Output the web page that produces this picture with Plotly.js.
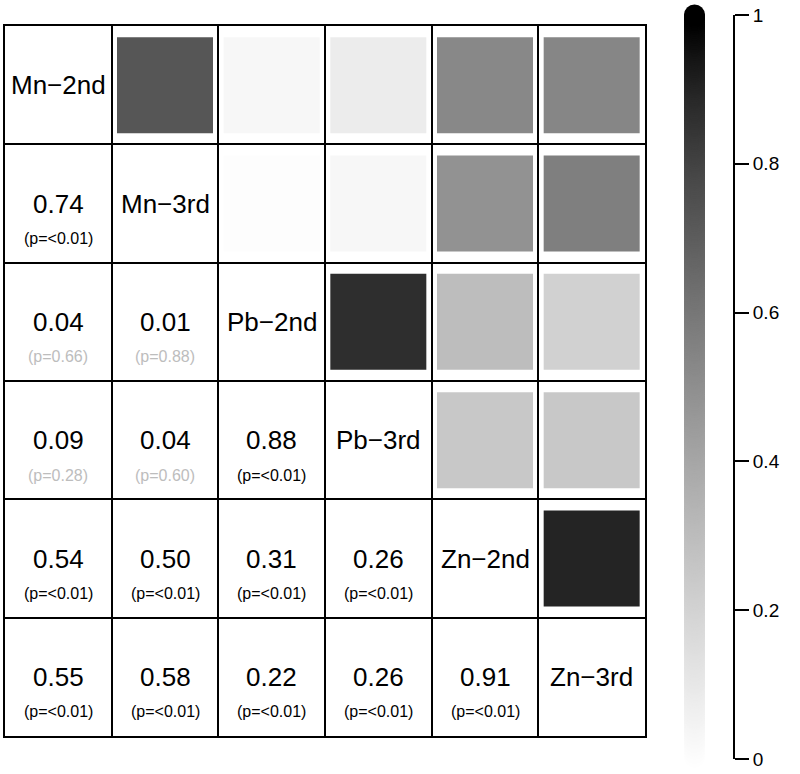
<!DOCTYPE html>
<html>
<head>
<meta charset="utf-8">
<script src="https://cdn.plot.ly/plotly-3.0.1.min.js"></script>
<style>html,body{margin:0;padding:0;background:#fff;}#chart{width:800px;height:774px;}</style>
</head>
<body>
<div id="chart"></div>
<script>
// ---- data ----
const variables = ['Mn−2nd', 'Mn−3rd', 'Pb−2nd', 'Pb−3rd', 'Zn−2nd', 'Zn−3rd'];
// lower triangle correlation values (row i, columns 0..i-1)
const corrRows = [
  [],
  [0.74],
  [0.04, 0.01],
  [0.09, 0.04, 0.88],
  [0.54, 0.50, 0.31, 0.26],
  [0.55, 0.58, 0.22, 0.26, 0.91]
];
const pRows = [
  [],
  ['<0.01'],
  ['0.66', '0.88'],
  ['0.28', '0.60', '<0.01'],
  ['<0.01', '<0.01', '<0.01', '<0.01'],
  ['<0.01', '<0.01', '<0.01', '<0.01', '<0.01']
];
const colorbarTicks = [0, 0.2, 0.4, 0.6, 0.8, 1];
const colorbarTickText = ['0', '0.2', '0.4', '0.6', '0.8', '1'];
const grayScale = [
  [0, 'rgb(255,255,255)'],
  [0.2, 'rgb(213,213,213)'],
  [0.4, 'rgb(169,169,169)'],
  [0.6, 'rgb(122,122,122)'],
  [0.8, 'rgb(70,70,70)'],
  [0.9, 'rgb(40,40,40)'],
  [0.95, 'rgb(22,22,22)'],
  [1, 'rgb(0,0,0)']
];

const FONT = '"Liberation Sans", Arial, Helvetica, sans-serif';
const n = variables.length;

// ---- upper-triangle squares ----
const sqX = [], sqY = [], sqC = [];
for (let i = 1; i < n; i++) {
  for (let j = 0; j < i; j++) {
    sqX.push(i); sqY.push(j); sqC.push(corrRows[i][j]);
  }
}
const squares = {
  type: 'scatter', mode: 'markers', x: sqX, y: sqY,
  xaxis: 'x', yaxis: 'y', hoverinfo: 'skip',
  marker: { symbol: 'square', size: 96, color: sqC, cmin: 0, cmax: 1,
            colorscale: grayScale, line: { width: 0 } }
};

// ---- colour key (stacked circles on its own axis) ----
const keyY = [];
for (let k = 0; k <= 400; k++) keyY.push(k / 400);
const key = {
  type: 'scatter', mode: 'markers', x: keyY.map(() => 0), y: keyY,
  xaxis: 'x2', yaxis: 'y2', hoverinfo: 'skip', cliponaxis: false,
  marker: { symbol: 'circle', size: 21, color: keyY, cmin: 0, cmax: 1,
            colorscale: grayScale, line: { width: 0 } }
};

// ---- texts ----
const annotations = [];
for (let i = 0; i < n; i++) {
  annotations.push({ x: i, y: i, xref: 'x', yref: 'y', text: variables[i], showarrow: false,
                     font: { family: FONT, size: 26, color: '#000' } });
  for (let j = 0; j < i; j++) {
    annotations.push({ x: j, y: i, xref: 'x', yref: 'y', text: corrRows[i][j].toFixed(2),
                       showarrow: false, font: { family: FONT, size: 26, color: '#000' } });
    const p = pRows[i][j];
    const sig = p.startsWith('<') || parseFloat(p) < 0.05;
    annotations.push({ x: j, y: i, xref: 'x', yref: 'y', yshift: -35, text: '(p=' + p.replace('<', '&lt;') + ')',
                       showarrow: false, font: { family: FONT, size: 16, color: sig ? '#000' : '#bdbdbd' } });
  }
}

const gridVals = [];
for (let g = 0; g < n - 1; g++) gridVals.push(g + 0.5);

const layout = {
  width: 800, height: 774,
  margin: { l: 0, r: 0, t: 0, b: 0 },
  paper_bgcolor: '#fff', plot_bgcolor: 'rgba(0,0,0,0)',
  showlegend: false,
  font: { family: FONT },
  xaxis: { domain: [5 / 800, 645 / 800], range: [-0.5, n - 0.5], tickmode: 'array', tickvals: gridVals,
           showticklabels: false, ticks: '', showgrid: true, gridcolor: '#000', gridwidth: 2,
           zeroline: false, showline: true, mirror: true, linecolor: '#000', linewidth: 2, fixedrange: true },
  yaxis: { domain: [1 - 736 / 774, 1 - 26 / 774], range: [n - 0.5, -0.5], tickmode: 'array', tickvals: gridVals,
           showticklabels: false, ticks: '', showgrid: true, gridcolor: '#000', gridwidth: 2,
           zeroline: false, showline: true, mirror: true, linecolor: '#000', linewidth: 2, fixedrange: true },
  xaxis2: { domain: [656 / 800, 733 / 800], range: [-1, 1], visible: false, anchor: 'y2', fixedrange: true },
  yaxis2: { domain: [1 - 759 / 774, 1 - 15 / 774], range: [0, 1], anchor: 'x2', side: 'right',
            showgrid: false, zeroline: false, showline: true, linecolor: '#000', linewidth: 2,
            ticks: 'outside', ticklen: 14, tickwidth: 2, tickcolor: '#000',
            tickmode: 'array', tickvals: colorbarTicks, ticktext: colorbarTickText,
            tickfont: { family: FONT, size: 19, color: '#000' }, fixedrange: true },
  annotations: annotations
};

Plotly.newPlot('chart', [squares, key], layout, { displayModeBar: false, staticPlot: true });
</script>
</body>
</html>
